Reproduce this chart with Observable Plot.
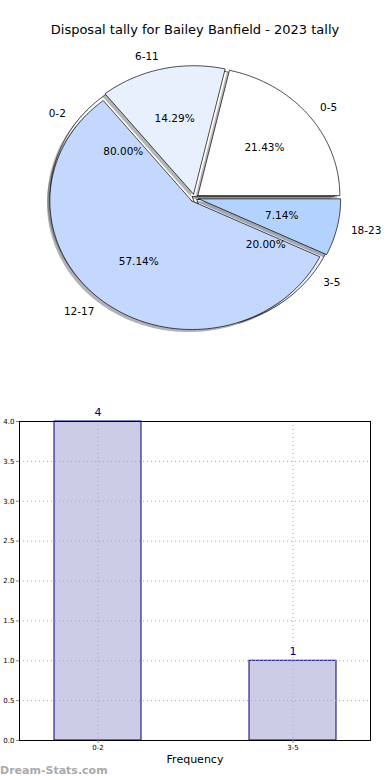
<!DOCTYPE html>
<html><head><meta charset="utf-8">
<script src="https://cdn.jsdelivr.net/npm/d3@7"></script>
<script src="https://cdn.jsdelivr.net/npm/@observablehq/plot@0.6"></script>
<style>
body{margin:0;background:#fff;font-family:"DejaVu Sans",sans-serif;}
#page{position:relative;width:390px;height:780px;overflow:hidden;}
.abs{position:absolute;}
</style></head><body><div id="page">
<div id="pie" class="abs" style="left:0;top:0"></div>
<div class="abs" style="left:0;width:390px;top:22px;text-align:center;font-size:13px;color:#000">Disposal tally for Bailey Banfield - 2023 tally</div>
<div id="bar" class="abs" style="left:0;top:400px"></div>
<div class="abs" style="left:0;width:390px;top:753px;text-align:center;font-size:11px;color:#000">Frequency</div>
<div class="abs" style="left:0;top:764px;font-size:11px;font-weight:bold;color:#aaa">Dream-Stats.com</div>
</div>
<script>
// ---- data ----
const pieLabels = ["0-5", "6-11", "12-17", "18-23"];
const pieValues = [3, 2, 8, 1];
const pie2Labels = ["0-2", "3-5"];
const pie2Values = [4, 1];
const pieColors = ["#ffffff", "#e8f0fe", "#c4d8fe", "#b3d3fe"];
const barCats = ["0-2", "3-5"];
const barValues = [4, 1];
const yTicks = [0, 0.5, 1, 1.5, 2, 2.5, 3, 3.5, 4];

// ---- pie geometry (matplotlib-style, start at 0deg, counter-clockwise) ----
function buildPie(labels, values, explode, pieId) {
  const total = d3.sum(values);
  let acc = 0;
  const wedges = [], texts = [];
  labels.forEach((lab, i) => {
    const a0 = acc / total * 360;
    acc += values[i];
    const a1 = acc / total * 360;
    const mid = (a0 + a1) / 2 * Math.PI / 180;
    const ox = explode * Math.cos(mid), oy = explode * Math.sin(mid);
    const pts = [{x: ox, y: oy}];
    const n = Math.max(2, Math.ceil(a1 - a0));
    for (let k = 0; k <= n; k++) {
      const a = (a0 + (a1 - a0) * k / n) * Math.PI / 180;
      pts.push({x: ox + Math.cos(a), y: oy + Math.sin(a)});
    }
    pts.push({x: ox, y: oy});
    const c = d3.color(pieColors[i % pieColors.length]);
    const shade = d3.rgb(c.r * 0.3, c.g * 0.3, c.b * 0.3).formatHex();
    wedges.push({key: pieId + lab, pts, fill: pieColors[i % pieColors.length], shade});
    texts.push({text: lab, x: ox + 1.1 * Math.cos(mid), y: oy + 1.1 * Math.sin(mid), kind: "label"});
    texts.push({text: (values[i] / total * 100).toFixed(2) + "%", x: ox + 0.6 * Math.cos(mid), y: oy + 0.6 * Math.sin(mid), kind: "pct"});
  });
  return {wedges, texts};
}
const p1 = buildPie(pieLabels, pieValues, 0.03, "a");
const p2 = buildPie(pie2Labels, pie2Values, 0.02, "b");

function wedgeMarks(w) {
  return [
    ...w.map(d => Plot.line(d.pts.map(p => ({x: p.x - 0.02, y: p.y - 0.02})), {x: "x", y: "y", fill: d.shade, fillOpacity: 0.4, stroke: "none"})),
    ...w.map(d => Plot.line(d.pts, {x: "x", y: "y", fill: d.fill, stroke: "#000", strokeWidth: 0.7, strokeLinejoin: "miter"}))
  ];
}
const allTexts = [...p1.texts, ...p2.texts];
const txtOpts = {x: "x", y: "y", text: "text", fontSize: 10.5, fill: "#000", fontFamily: "DejaVu Sans"};

const RX = 142, RY = 128.5, CX = 194, CY = 197.5;
const pieChart = Plot.plot({
  width: 390, height: 360, margin: 0,
  style: {background: "transparent", overflow: "visible"},
  x: {domain: [-CX / RX, (390 - CX) / RX], axis: null},
  y: {domain: [-(360 - CY) / RY, CY / RY], axis: null},
  marks: [
    ...wedgeMarks(p2.wedges),
    ...wedgeMarks(p1.wedges),
    Plot.text(allTexts.filter(d => d.kind === "pct"), {...txtOpts, textAnchor: "middle"}),
    Plot.text(allTexts.filter(d => d.kind === "label" && d.x > 0), {...txtOpts, textAnchor: "start"}),
    Plot.text(allTexts.filter(d => d.kind === "label" && d.x <= 0), {...txtOpts, textAnchor: "end"})
  ]
});
document.getElementById("pie").appendChild(pieChart);

// ---- bar chart ----
const barData = barCats.map((c, i) => ({cat: c, val: barValues[i]}));
const barChart = Plot.plot({
  width: 390, height: 380,
  marginTop: 21, marginBottom: 40, marginLeft: 19, marginRight: 20,
  style: {background: "transparent", fontFamily: "DejaVu Sans", overflow: "visible"},
  x: {type: "band", domain: barCats, paddingInner: 0.554, paddingOuter: 0.177, label: null},
  y: {domain: [0, 4], label: null},
  marks: [
    Plot.barY(barData, {x: "cat", y: "val", fill: "#ccccE6", stroke: "#000080", strokeWidth: 1}),
    Plot.gridY(yTicks, {stroke: "#aaa", strokeOpacity: 1, strokeDasharray: "1,3"}),
    Plot.gridX(barCats, {stroke: "#aaa", strokeOpacity: 1, strokeDasharray: "1,3"}),
    Plot.frame({stroke: "#000", strokeWidth: 1}),
    Plot.axisY(yTicks, {tickFormat: d3.format(".1f"), fontSize: 7, tickSize: 3, tickPadding: 2, stroke: "#888", fill: "#000", label: null}),
    Plot.axisX(barCats, {fontSize: 7, tickSize: 3, tickPadding: 2, stroke: "#888", fill: "#000", label: null}),
    Plot.text(barData, {x: "cat", y: "val", text: d => String(d.val), dy: -9, fill: "#000099", fontSize: 11})
  ]
});
document.getElementById("bar").appendChild(barChart);
</script>
</body></html>
